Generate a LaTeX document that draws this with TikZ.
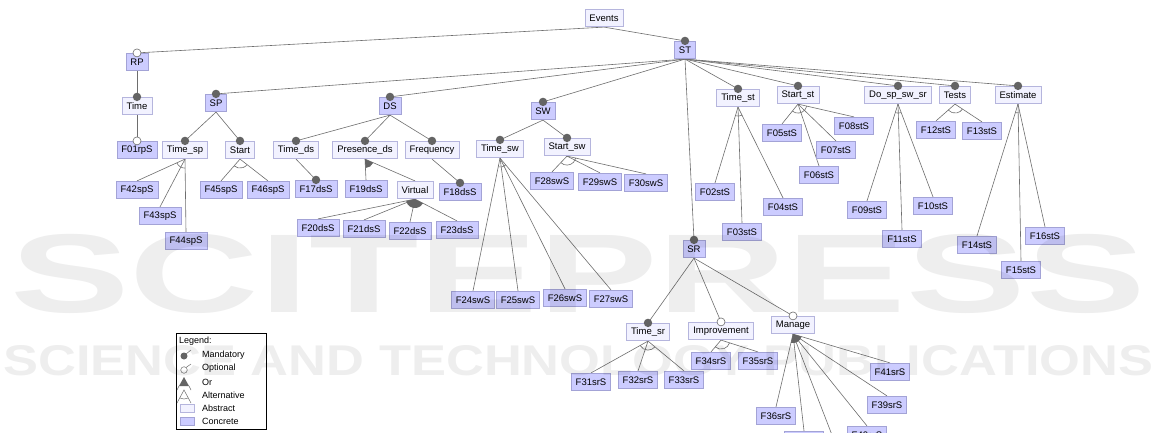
\documentclass[tikz,border=0pt]{standalone}
\usepackage{fontspec}
\setmainfont{Liberation Sans}
\usetikzlibrary{calc,backgrounds}
\pgfdeclarelayer{foreground}
\pgfsetlayers{background,main,foreground}
\definecolor{concf}{HTML}{CCCCFF}
\definecolor{concd}{HTML}{A3A3D6}
\definecolor{absf}{HTML}{F2F2FF}
\definecolor{absd}{HTML}{B5B5DD}
\definecolor{edgec}{HTML}{6E6E6E}
\definecolor{dotc}{HTML}{646464}

\tikzset{
  feat/.style={rectangle, minimum height=17.5pt, inner xsep=4.5pt, inner ysep=0pt,
               font=\fontsize{9.5}{11}\selectfont, line width=0.7pt},
  conc/.style={feat, fill=concf, draw=concd},
  abst/.style={feat, fill=absf, draw=absd},
  edge/.style={draw=edgec, line width=0.6pt},
  legtext/.style={anchor=west, inner sep=0pt, font=\fontsize{9}{10}\selectfont},
  wmark/.style={inner sep=0pt, anchor=base west, text=black, text opacity=0.065,
                font=\bfseries},
}

% edges from a parent to a list of children
\newcommand\kids[2]{\foreach \c in {#2} {\draw[edge] (#1.south) -- (\c.north);}}
% mandatory / optional markers on a child
\newcommand\mandmark[1]{\fill[dotc] (#1.north) circle (4.2);}
\newcommand\optmark[1]{\filldraw[fill=white, draw=edgec, line width=0.6pt] (#1.north) circle (4);}
% alternative group: open arc between the outer child edges
\newcommand\altgroup[3]{\draw[edge] let \p0=(#1.south),
    \p1=($(#2.north)-(#1.south)$), \p2=($(#3.north)-(#1.south)$),
    \n1={atan2(\y1,\x1)}, \n2={atan2(\y2,\x2)} in
    ($(\p0)+(\n1:9)$) arc[start angle=\n1, end angle=\n2, radius=9];}
% or group: filled sector between the outer child edges
\newcommand\orgroup[3]{\fill[dotc] let \p0=(#1.south),
    \p1=($(#2.north)-(#1.south)$), \p2=($(#3.north)-(#1.south)$),
    \n1={atan2(\y1,\x1)}, \n2={atan2(\y2,\x2)} in
    (\p0) -- ($(\p0)+(\n1:9)$) arc[start angle=\n1, end angle=\n2, radius=9] -- cycle;}

\begin{document}
\begin{tikzpicture}[x=1pt, y=1pt]
\useasboundingbox (0,0) rectangle (1172,-432);
\begin{pgfonlayer}{background}
\fill[white] (0,0) rectangle (1172,-432);
\end{pgfonlayer}

% ---------- features ----------
\node[abst] (Events) at (604,-18) {Events};
\node[conc] (RP) at (137,-62) {RP};
\node[abst] (Time) at (137,-106) {Time};
\node[conc] (F01rpS) at (137,-150) {F01rpS};

\node[conc] (ST) at (685,-50) {ST};

\node[conc] (SP) at (216,-103) {SP};
\node[abst] (Timesp) at (185,-150) {Time\_sp};
\node[abst] (Start) at (240,-150) {Start};
\node[conc] (F42spS) at (137,-190) {F42spS};
\node[conc] (F43spS) at (160,-216) {F43spS};
\node[conc] (F44spS) at (186,-241) {F44spS};
\node[conc] (F45spS) at (221,-190) {F45spS};
\node[conc] (F46spS) at (268,-190) {F46spS};

\node[conc] (DS) at (390,-106) {DS};
\node[abst] (Timeds) at (296,-150) {Time\_ds};
\node[abst] (Presds) at (365,-150) {Presence\_ds};
\node[abst] (Freq) at (432,-150) {Frequency};
\node[conc] (F17dsS) at (316,-189) {F17dsS};
\node[conc] (F19dsS) at (366,-189) {F19dsS};
\node[abst] (Virtual) at (415,-190) {Virtual};
\node[conc] (F18dsS) at (460,-192) {F18dsS};
\node[conc] (F20dsS) at (318,-228) {F20dsS};
\node[conc] (F21dsS) at (364,-229) {F21dsS};
\node[conc] (F22dsS) at (410,-231) {F22dsS};
\node[conc] (F23dsS) at (457,-230) {F23dsS};

\node[conc] (SW) at (543,-111) {SW};
\node[abst] (Timesw) at (500,-149) {Time\_sw};
\node[abst] (Startsw) at (567,-147) {Start\_sw};
\node[conc] (F28swS) at (552,-181) {F28swS};
\node[conc] (F29swS) at (600,-182) {F29swS};
\node[conc] (F30swS) at (646,-183) {F30swS};
\node[conc] (F24swS) at (473,-300) {F24swS};
\node[conc] (F25swS) at (518,-300) {F25swS};
\node[conc] (F26swS) at (565,-298) {F26swS};
\node[conc] (F27swS) at (611,-299) {F27swS};

\node[abst] (Timest) at (738,-98) {Time\_st};
\node[abst] (Startst) at (798,-95) {Start\_st};
\node[abst] (Dosp) at (898,-95) {Do\_sp\_sw\_sr};
\node[abst] (Tests) at (955,-95) {Tests};
\node[abst] (Estimate) at (1018,-95) {Estimate};
\node[conc] (F05stS) at (782,-133) {F05stS};
\node[conc] (F08stS) at (854,-126) {F08stS};
\node[conc] (F07stS) at (836,-150) {F07stS};
\node[conc] (F06stS) at (819,-175) {F06stS};
\node[conc] (F02stS) at (715,-192) {F02stS};
\node[conc] (F03stS) at (742,-232) {F03stS};
\node[conc] (F04stS) at (783,-207) {F04stS};
\node[conc] (F09stS) at (867,-210) {F09stS};
\node[conc] (F10stS) at (933,-206) {F10stS};
\node[conc] (F11stS) at (902,-239) {F11stS};
\node[conc] (F12stS) at (936,-130) {F12stS};
\node[conc] (F13stS) at (982,-131) {F13stS};
\node[conc] (F14stS) at (977,-245) {F14stS};
\node[conc] (F15stS) at (1021,-270) {F15stS};
\node[conc] (F16stS) at (1045,-236) {F16stS};

\node[conc] (SR) at (694,-249) {SR};
\node[abst] (Timesr) at (648,-332) {Time\_sr};
\node[abst] (Improv) at (721,-331) {Improvement};
\node[abst] (Manage) at (793,-325) {Manage};
\node[conc] (F31srS) at (591,-382) {F31srS};
\node[conc] (F32srS) at (638,-380) {F32srS};
\node[conc] (F33srS) at (684,-380) {F33srS};
\node[conc] (F34srS) at (711,-361) {F34srS};
\node[conc] (F35srS) at (758,-361) {F35srS};
\node[conc] (F41srS) at (890,-372) {F41srS};
\node[conc] (F39srS) at (887,-405) {F39srS};
\node[conc] (F36srS) at (776,-416) {F36srS};
\node[conc] (F37srS) at (804,-440) {F37srS};
\node[conc] (F40srS) at (867,-435) {F40srS};
\node[conc] (F38srS) at (842,-470) {F38srS};

% ---------- connectors ----------
\begin{pgfonlayer}{background}
\kids{Events}{RP,ST}
\kids{RP}{Time}
\kids{Time}{F01rpS}
\kids{ST}{SP,DS,SW,SR,Timest,Startst,Dosp,Tests,Estimate}
\kids{SP}{Timesp,Start}
\kids{Timesp}{F42spS,F43spS,F44spS}
\kids{Start}{F45spS,F46spS}
\kids{DS}{Timeds,Presds,Freq}
\kids{Timeds}{F17dsS}
\kids{Presds}{F19dsS,Virtual}
\kids{Freq}{F18dsS}
\kids{Virtual}{F20dsS,F21dsS,F22dsS,F23dsS}
\kids{SW}{Timesw,Startsw}
\kids{Timesw}{F24swS,F25swS,F26swS,F27swS}
\kids{Startsw}{F28swS,F29swS,F30swS}
\kids{Timest}{F02stS,F03stS,F04stS}
\kids{Startst}{F05stS,F06stS,F07stS,F08stS}
\kids{Dosp}{F09stS,F11stS,F10stS}
\kids{Tests}{F12stS,F13stS}
\kids{Estimate}{F14stS,F15stS,F16stS}
\kids{SR}{Timesr,Improv,Manage}
\kids{Timesr}{F31srS,F32srS,F33srS}
\kids{Improv}{F34srS,F35srS}
\kids{Manage}{F36srS,F37srS,F38srS,F40srS,F39srS,F41srS}
\end{pgfonlayer}

% group markers
\altgroup{Timesp}{F42spS}{F44spS}
\altgroup{Start}{F45spS}{F46spS}
\orgroup{Presds}{F19dsS}{Virtual}
\orgroup{Virtual}{F20dsS}{F23dsS}
\altgroup{Timesw}{F24swS}{F27swS}
\altgroup{Startsw}{F28swS}{F30swS}
\altgroup{Timest}{F02stS}{F04stS}
\altgroup{Startst}{F05stS}{F08stS}
\altgroup{Dosp}{F09stS}{F10stS}
\altgroup{Tests}{F12stS}{F13stS}
\altgroup{Estimate}{F14stS}{F16stS}
\altgroup{Timesr}{F31srS}{F33srS}
\altgroup{Improv}{F34srS}{F35srS}
\orgroup{Manage}{F36srS}{F41srS}

% mandatory / optional markers
\foreach \m in {ST,Time,SP,DS,SW,SR,Timesp,Start,Timeds,Presds,Freq,F17dsS,F18dsS,
                Timesw,Startsw,Timest,Startst,Dosp,Tests,Estimate,Timesr} {\mandmark{\m}}
\foreach \o in {RP,F01rpS,Improv,Manage} {\optmark{\o}}

% ---------- legend ----------
\node[draw=black, line width=0.8pt, minimum width=90pt, minimum height=96pt, inner sep=0pt]
  (legend) at (221,-381) {};
\node[legtext] (lgT) at (179,-341) {Legend:};
\fill[dotc] (184,-356) circle (3.5);
\draw[edgec, line width=0.5pt] (186,-354) -- (191,-350);
\node[legtext] (lgM) at (202,-355) {Mandatory};
\filldraw[fill=white, draw=edgec, line width=0.5pt] (184,-370) circle (3.3);
\draw[edgec, line width=0.5pt] (186,-367.5) -- (191,-364);
\node[legtext] (lgO) at (202,-368) {Optional};
\fill[dotc] (184,-377) -- (179,-386) -- (189,-386) -- cycle;
\draw[edgec, line width=0.5pt] (179,-386) -- (177,-390) (189,-386) -- (191,-390);
\node[legtext] (lgR) at (202,-382) {Or};
\draw[edgec, line width=0.5pt] (177,-403) -- (184,-390) -- (191,-403);
\draw[edgec, line width=0.5pt] ($(184,-390)+(-118:9)$) arc[start angle=-118, end angle=-62, radius=9];
\node[legtext] (lgA) at (202,-395) {Alternative};
\draw[fill=absf, draw=absd, line width=0.6pt] (180,-404) rectangle (194,-412);
\node[legtext] (lgB) at (202,-408) {Abstract};
\draw[fill=concf, draw=concd, line width=0.6pt] (180,-417) rectangle (194,-425);
\node[legtext] (lgC) at (202,-421) {Concrete};

% ---------- publisher watermark ----------
\begin{pgfonlayer}{foreground}
\node[wmark, font=\bfseries\fontsize{112}{112}\selectfont, xscale=1.6] (wm1) at (10,-312) {SCITEPRESS};
\node[wmark, font=\bfseries\fontsize{43}{43}\selectfont, xscale=1.22] (wm2) at (3,-375) {SCIENCE AND TECHNOLOGY PUBLICATIONS};
\end{pgfonlayer}
\end{tikzpicture}
\end{document}
